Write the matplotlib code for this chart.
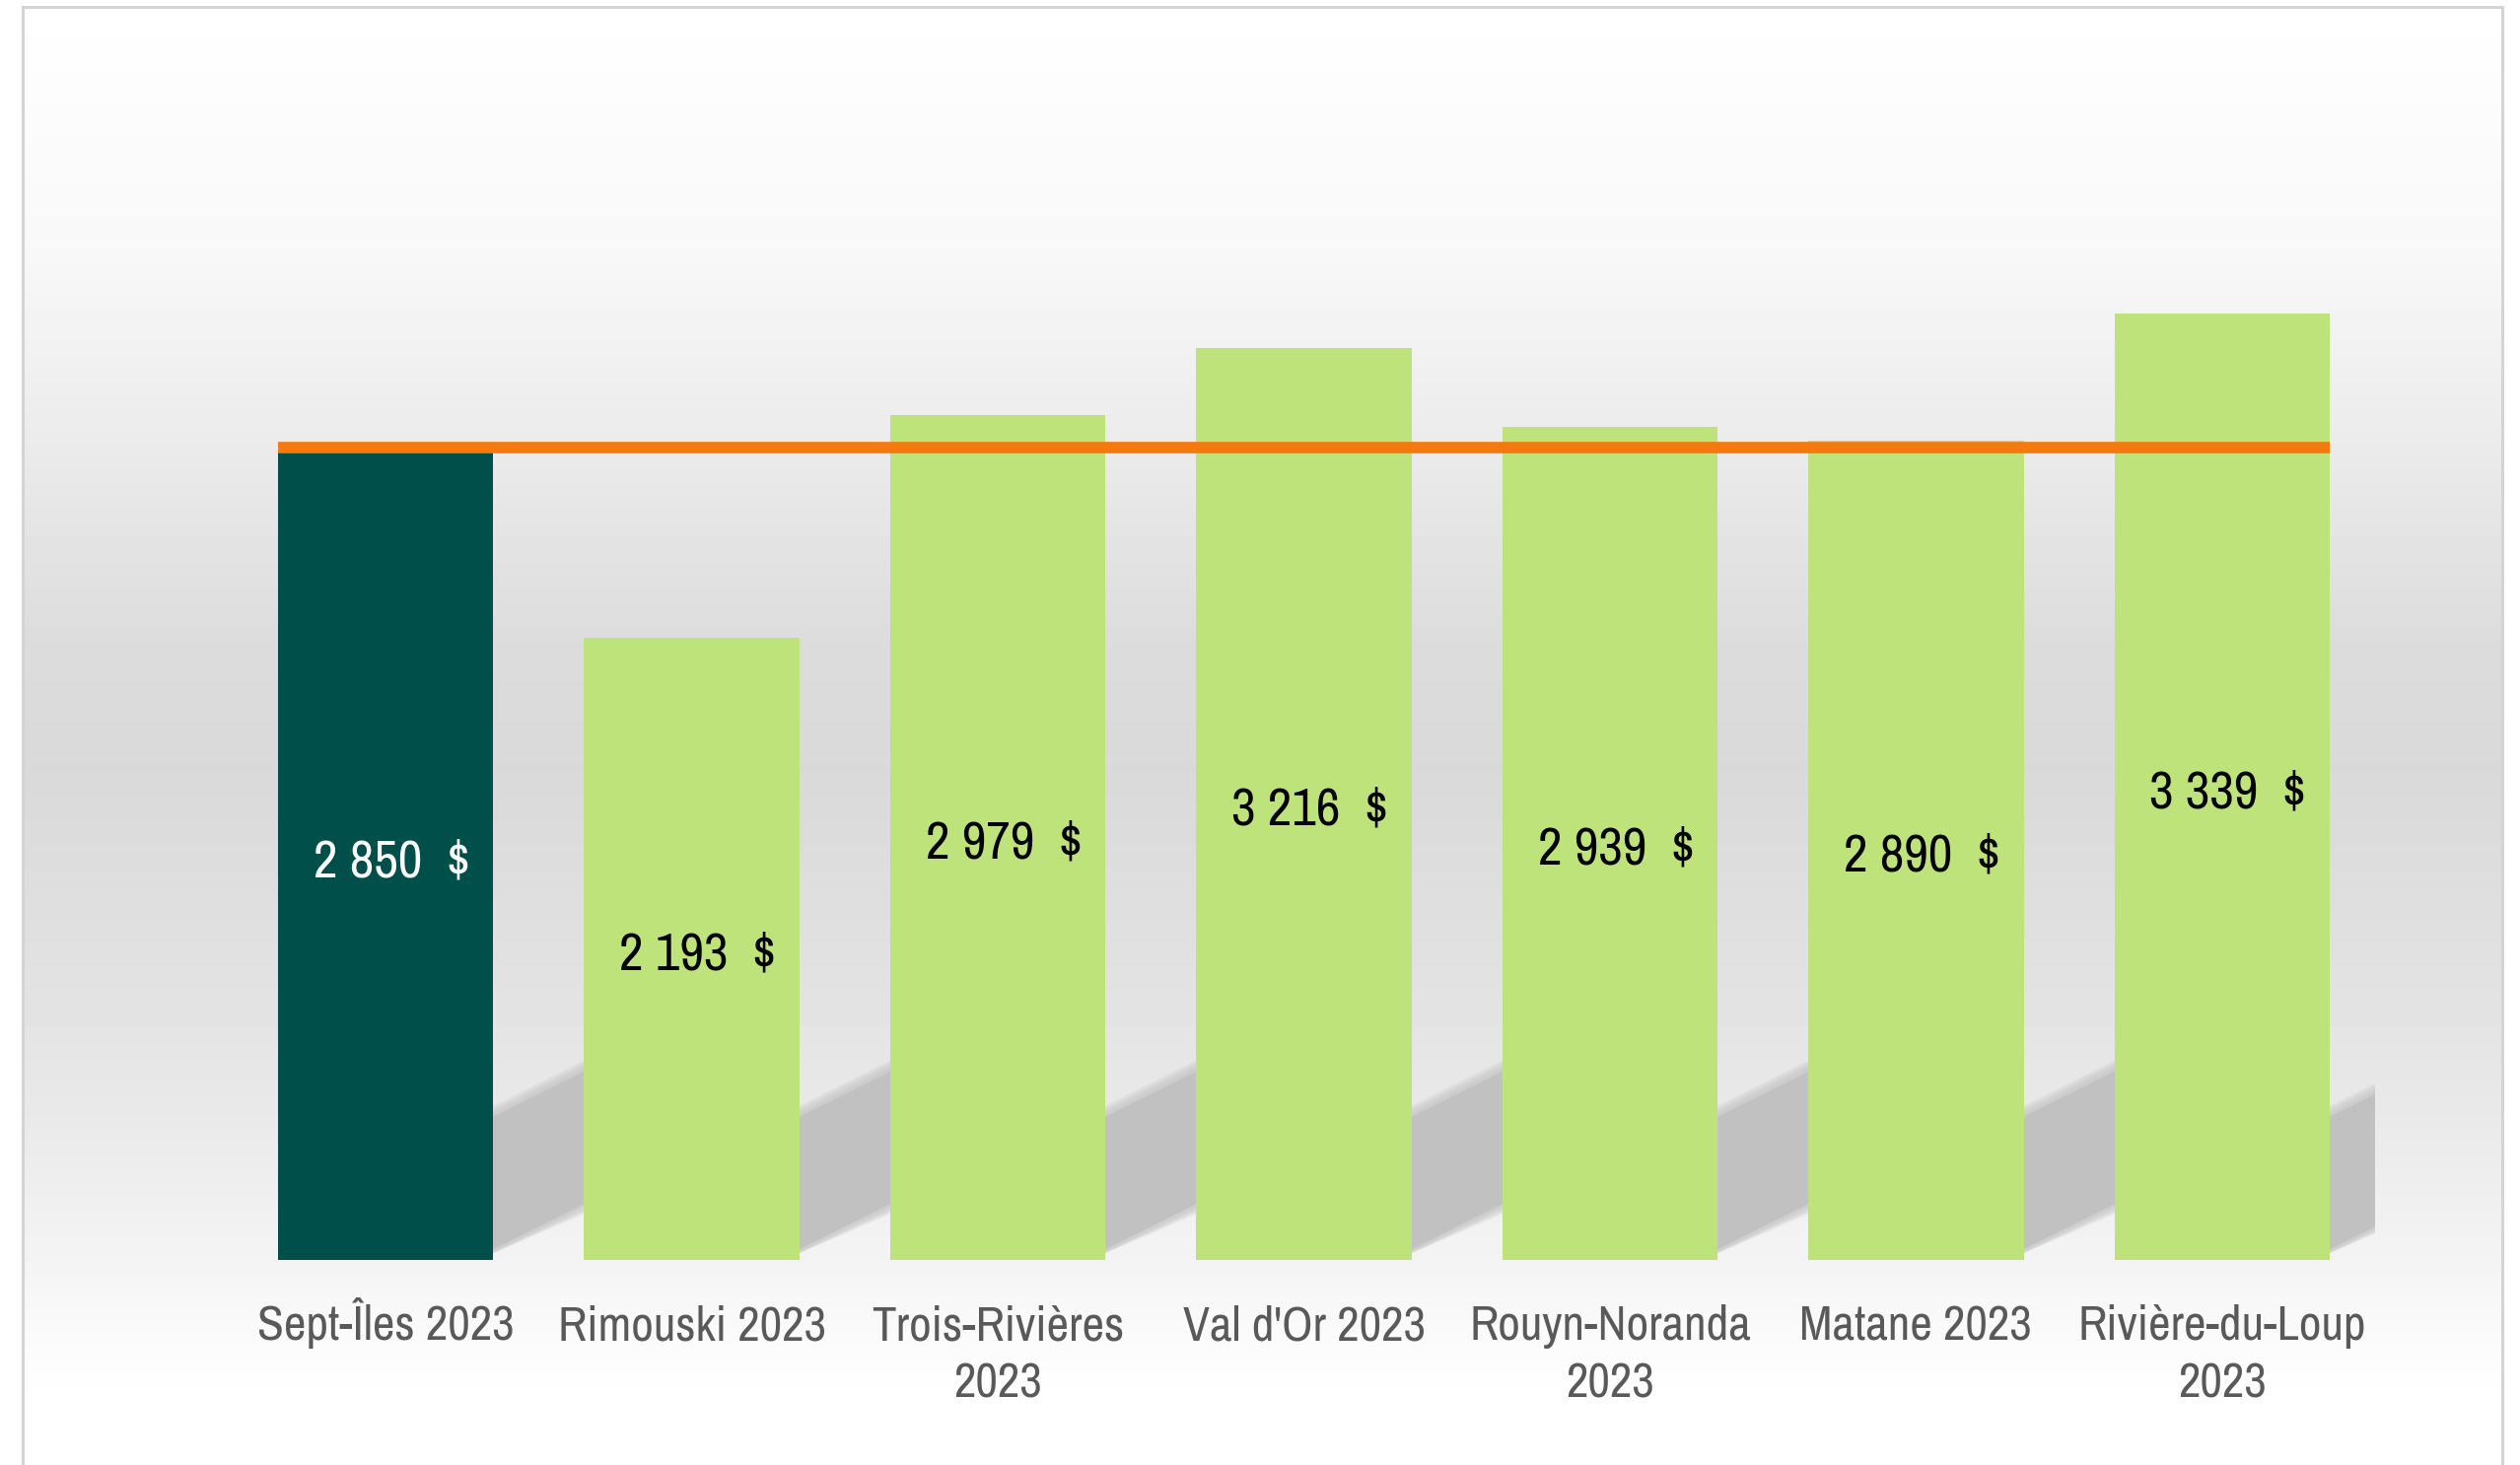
import matplotlib
matplotlib.use('agg')
import matplotlib.pyplot as plt
import numpy as np
from matplotlib import font_manager, transforms
from matplotlib.font_manager import FontProperties
from matplotlib.patches import Rectangle, Polygon

# données
villes = ['Sept-Îles 2023', 'Rimouski 2023', 'Trois-Rivières\n2023', "Val d'Or 2023",
          'Rouyn-Noranda\n2023', 'Matane 2023', 'Rivière-du-Loup\n2023']
couts = [2850, 2193, 2979, 3216, 2939, 2890, 3339]
etiquettes = ['2 850  $', '2 193  $', '2 979  $', '3 216  $', '2 939  $', '2 890  $', '3 339  $']
moyenne = 2866


# cherche une police étroite (le graphique d'origine utilise une police condensée)
def police_etroite():
    liste = font_manager.fontManager.ttflist
    for f in liste:
        if f.name == 'Liberation Sans Narrow' and f.weight in (400, 'normal') and f.style == 'normal':
            return f.fname
    for f in liste:
        if ('Condensed' in f.name or 'Narrow' in f.name) and f.style == 'normal' \
                and f.weight in (400, 'normal', 'regular'):
            return f.fname
    for f in liste:
        if str(f.stretch) in ('condensed', 'semi-condensed') and f.style == 'normal' \
                and f.weight in (400, 'normal', 'regular') and 'Mono' not in f.name:
            return f.fname
    for f in liste:
        if f.name == 'Liberation Sans' and f.weight in (400, 'normal') and f.style == 'normal':
            return f.fname
    return None


chemin = police_etroite()

W, H = 2556, 1486
fig = plt.figure(figsize=(W / 100, H / 100), dpi=100, facecolor='white')
rend = fig.canvas.get_renderer()


def fp(taille):
    if chemin:
        return FontProperties(fname=chemin, size=taille)
    return FontProperties(family='DejaVu Sans', size=taille)


def taille_pour(texte, largeur_px, tmax):
    t = fig.text(0, 0, texte, fontproperties=fp(20))
    w = t.get_window_extent(rend).width
    t.remove()
    return min(tmax, 20 * largeur_px / w)


t_cat = taille_pour('Sept-Îles 2023', 271, 35.5)
t_val = taille_pour('2 850  $', 160, 39)

# fond dégradé (blanc -> gris -> blanc) dans le cadre du graphique
bx0, bx1, by1 = 23 / W, 2538 / W, 1 - 7 / H
bg = fig.add_axes([bx0, 0, bx1 - bx0, by1], zorder=0)
arret_y = [0, 250, 450, 650, 780, 1000, 1130, 1280, 1350, 1420, 1486]
arret_g = [1.0, 0.973, 0.922, 0.863, 0.851, 0.886, 0.914, 0.957, 0.98, 1.0, 1.0]
yy = np.arange(7, H)
col = np.interp(yy, arret_y, arret_g)
bg.imshow(np.tile(col[:, None], (1, 4)), cmap='gray', vmin=0, vmax=1, aspect='auto',
          interpolation='nearest')
bg.axis('off')
fig.patches.append(Rectangle((bx0, -0.01), bx1 - bx0, by1 + 0.01, transform=fig.transFigure,
                             fill=False, edgecolor='#d4d4d4', linewidth=2.2, zorder=1))

# zone de tracé
ax = fig.add_axes([236 / W, 208 / H, 2173 / W, 0.7741], zorder=2)
ax.patch.set_alpha(0)
n = len(couts)
x = np.arange(n)
larg = 0.704
ax.set_xlim(-0.5, n - 0.5)
ax.set_ylim(0, 4000)
for s in ax.spines.values():
    s.set_visible(False)
ax.set_yticks([])
ax.set_xticks([])

# ombres en perspective (bande diagonale floue à droite de chaque barre)
pente = 539.0
for xi in x:
    r = xi + larg / 2
    xs = np.array([r - 0.05, r + 0.36])
    for k in range(6):
        off = (5 - k) * 8
        bas = np.maximum(38 + pente * (xs - r) - off, 0)
        haut = 504 + pente * (xs - r) + off
        pts = [(xs[0], bas[0]), (xs[1], bas[1]), (xs[1], haut[1]), (xs[0], haut[0])]
        ax.add_patch(Polygon(pts, closed=True, facecolor='#c1c1c1', edgecolor='none',
                             alpha=0.22 if k < 5 else 1.0, zorder=1))

couleurs = ['#014f4b'] + ['#bee37b'] * (n - 1)
ax.bar(x, couts, width=larg, color=couleurs, zorder=3)

ax.hlines(moyenne, -larg / 2, n - 1 + larg / 2, color='#f47a10', linewidth=8.4, zorder=4)

for xi, v, t in zip(x, couts, etiquettes):
    ax.text(xi + 0.02, v / 2 - 22, t, ha='center', va='center', fontproperties=fp(t_val),
            color='white' if xi == 0 else 'black', zorder=5)

# étiquettes des catégories, ligne par ligne
tr = transforms.blended_transform_factory(ax.transData, fig.transFigure)
for xi, nom in zip(x, villes):
    for j, ligne in enumerate(nom.split('\n')):
        ax.text(xi, (H - 1359 - 58 * j) / H, ligne, transform=tr, ha='center', va='baseline',
                fontproperties=fp(t_cat), color='#595959')

fig.savefig('out.png', dpi=100, facecolor='white')
